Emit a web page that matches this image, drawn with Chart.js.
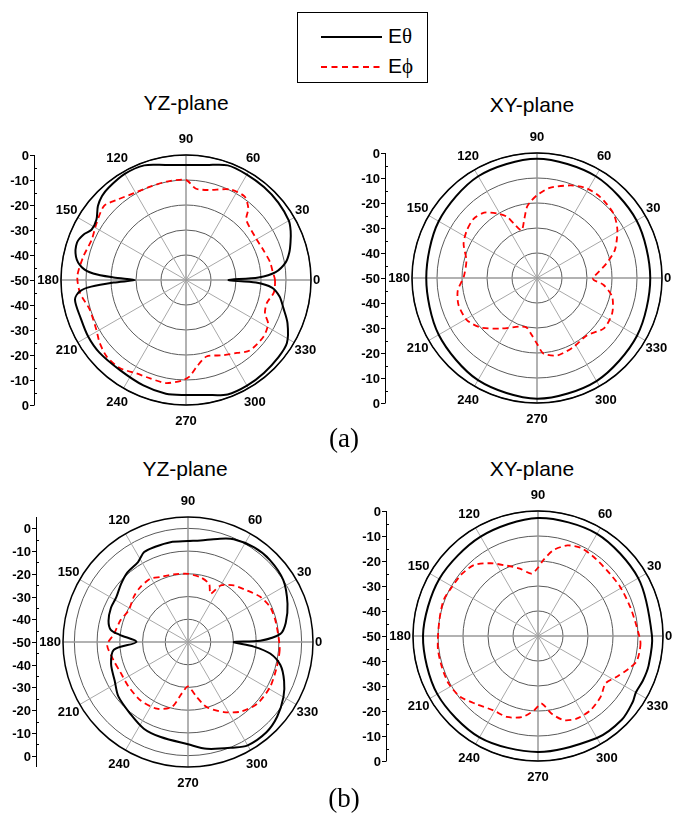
<!DOCTYPE html>
<html>
<head>
<meta charset="utf-8">
<script src="https://cdn.jsdelivr.net/npm/chart.js@4.4.0/dist/chart.umd.min.js"></script>
<style>
  body { margin: 0; width: 673px; height: 814px; background: #fff; position: relative; overflow: hidden;
         font-family: "Liberation Sans", Arial, sans-serif; }
  canvas { position: absolute; }
  .title { position: absolute; width: 200px; text-align: center; font-size: 21px; line-height: 21px; color: #000; }
  .cap { position: absolute; width: 80px; text-align: center; font-family: "Liberation Serif", "Times New Roman", serif;
         font-size: 27px; line-height: 27px; }
  #legend { position: absolute; left: 297px; top: 12px; width: 129px; height: 69px; border: 1px solid #000; }
  #legend svg { position: absolute; left: 0; top: 0; }
  .leg { position: absolute; left: 90px; font-size: 21px; line-height: 21px; }
  .gr { font-family: "Liberation Serif", "Times New Roman", serif; }
</style>
</head>
<body>

<div id="legend">
  <svg width="129" height="69">
    <line x1="23" y1="24" x2="84" y2="24" stroke="#000" stroke-width="2"/>
    <line x1="23" y1="54" x2="84" y2="54" stroke="#f00" stroke-width="2" stroke-dasharray="6,4.5"/>
  </svg>
  <span class="leg" style="top:12px">E<span class="gr">θ</span></span>
  <span class="leg" style="top:42px">E<span class="gr">ϕ</span></span>
</div>

<div class="title" style="left:86px; top:92px">YZ-plane</div>
<div class="title" style="left:432px; top:94px">XY-plane</div>
<div class="title" style="left:85px; top:458px">YZ-plane</div>
<div class="title" style="left:432px; top:458px">XY-plane</div>

<canvas id="yzA" width="335" height="310" style="left:4px; top:125px"></canvas>
<canvas id="xyA" width="335" height="310" style="left:355px; top:123px"></canvas>
<canvas id="yzB" width="335" height="310" style="left:6px; top:487px"></canvas>
<canvas id="xyB" width="335" height="310" style="left:356px; top:481px"></canvas>

<div class="cap" style="left:304px; top:425px">(a)</div>
<div class="cap" style="left:304px; top:785px">(b)</div>

<script>
// angle labels (degrees, counter-clockwise from the right) and dB rings
const angleTicks = [0, 30, 60, 90, 120, 150, 180, 210, 240, 270, 300, 330];
const dbTicks = [-50, -40, -30, -20, -10, 0];
const dbMinor = [-45, -35, -25, -15, -5];

// (a) YZ-plane
const yzA_thetaDeg = [0, 2, 5, 10, 15, 20, 25, 30, 40, 50, 60, 70, 80, 90, 100, 110, 120, 130, 135, 140, 146, 152, 156, 161, 168, 173, 176, 178,
  180, 182, 184, 186, 190, 200, 210, 220, 234, 248, 260, 270, 280, 290, 300, 310, 320, 328, 337, 344, 350, 355, 358];
const yzA_thetaDb = [-33, -21, -14, -9.5, -7.2, -5.5, -3.8, -2.5, -1.8, -1.5, -1.3, -1.2, -3.3, -4, -3.3, -1.2, -1, -1.8, -2.5, -4, -6.8, -7.2, -5.2, -3.9, -5, -8, -12.8, -21,
  -29.6, -21, -12, -7.4, -4.9, -5.2, -4.8, -4.8, -5.3, -4.5, -3.8, -4, -3.3, -1.3, -1.2, -1.5, -1.8, -2.4, -5.9, -9.5, -12, -15.5, -22];
const yzA_phiDeg = [0, 6, 12, 21, 32, 45, 49, 55, 64, 76, 84, 90, 101, 111, 121, 131, 138, 148, 157, 167, 178, 187, 197, 209, 216, 224, 233,
  242, 250, 259, 268, 272, 277, 285, 296, 305, 312, 324, 332, 337, 344, 352];
const yzA_phiDb = [-14.4, -15.2, -15.6, -16.8, -17.4, -15.9, -12, -9.2, -9.7, -12.9, -13.2, -10, -9.9, -10, -9.5, -7.6, -5.8, -7.7, -9, -7.9, -6.5, -7.3, -9.7, -9, -7.3, -5.9, -5.9,
  -7.7, -8.1, -8, -9.8, -11.3, -15, -18.3, -16.5, -14.4, -12, -11.6, -12.8, -15.7, -16.4, -14.5];

// (a) XY-plane
const xyA_thetaDeg = [0, 30, 60, 90, 120, 150, 180, 210, 240, 270, 300, 330];
const xyA_thetaDb = [-4.7, -4.0, -3.0, -2.3, -3.0, -4.6, -5.7, -4.6, -2.8, -1.7, -2.4, -3.8];
const xyA_phiDeg = [0, 12, 20, 31, 40, 52, 61, 70, 82, 90, 94, 98, 102, 108, 113, 116, 122, 129, 137, 146, 155, 166, 179, 189, 199, 211, 221,
  234, 250, 258, 264, 270, 275, 285, 298, 311, 323, 335, 346, 354, 358];
const xyA_phiDb = [-27.6, -21.5, -16.8, -12.5, -10, -8.9, -9, -10.6, -13.6, -16.9, -18.9, -21.3, -25.7, -30, -26.4, -22.8, -19.5, -16.4, -15.3, -16.1, -17.6, -20.9, -20.7, -17.9, -16.8, -17.3, -19.9,
  -25, -29.3, -29.8, -27.5, -23.7, -19.6, -18, -18.8, -19.6, -16.5, -16.8, -19, -23.2, -27.3];

// (b) YZ-plane
const yzB_thetaDeg = [0, 1, 5, 11, 21, 33, 45, 55, 66, 74, 83, 90, 100, 109, 116, 122, 131, 139, 148, 156, 165, 171, 174, 180, 186, 196, 208,
  218, 231, 243, 254, 270, 280, 293, 300, 311, 320, 330, 338, 346, 352, 356];
const yzB_thetaDb = [-29.9, -18.2, -9.2, -6.2, -3.1, 0, 1, 0.8, -0.5, -2.8, -5, -5.6, -5.4, -5.7, -6, -8.5, -9.4, -11, -12.8, -12.9, -13.8, -15.6, -19.8, -27.3, -17.2, -14.8, -13.5,
  -11.1, -9.5, -7.2, -6.5, -5, -2.3, 0.5, 2.5, 2.6, 1.2, -1.5, -4.4, -8.1, -13.5, -21];
const yzB_phiDeg = [3, 14, 23, 32, 41, 51, 60, 65, 70, 79, 90, 102, 113, 121, 131, 140, 152, 162, 174, 182, 194, 204, 217, 231, 245, 256,
  263, 270, 279, 286, 297, 307, 318, 331, 344, 355];
const yzB_phiDb = [-10.1, -10.4, -10.7, -12.5, -15.5, -18, -21.3, -26.6, -22.8, -21, -20, -19.6, -18.9, -17.6, -18, -18.9, -20.4, -18.8, -17.2, -14.4, -16.3, -17.4, -17.3, -16.9, -17.6, -20.5,
  -27.1, -30.5, -25.5, -20.2, -15.4, -11.6, -9.2, -8.8, -9.4, -9.5];

// (b) XY-plane
const xyB_thetaDeg = [0, 30, 60, 90, 120, 150, 180, 210, 240, 270, 300, 315, 325, 330, 337, 345];
const xyB_thetaDb = [-4.4, -3.7, -2.8, -2.8, -4.1, -4.4, -4.0, -3.5, -3.2, -3.6, -2.9, -2.6, -3.8, -4.8, -4.4, -4.2];
const xyB_phiDeg = [5, 17, 31, 44, 55, 64, 72, 80, 86, 90, 96, 105, 114, 123, 132, 141, 150, 159, 169, 180, 188, 198, 208, 218, 228, 239,
  249, 259, 267, 273, 280, 287, 295, 305, 316, 325, 333, 340, 346, 356];
const xyB_phiDb = [-10.3, -11.3, -11.7, -11.9, -11.3, -10.8, -11.9, -15.2, -19.6, -22.7, -24.9, -22.1, -19.2, -15.3, -11.8, -10.7, -10.4, -9.6, -10, -10, -9.6, -9.6, -9.5, -10.5, -13.3, -15.3,
  -15.3, -17, -20.2, -22.9, -18.4, -14.8, -13.5, -13.6, -15.1, -17, -14.4, -11.5, -9.2, -8.9];

// radar goes clockwise from startAngle, so index i holds angle (360 - i) % 360
const degLabels = [];
for (let i = 0; i < 360; i++) degLabels.push((360 - i) % 360);

function toSlots(deg, db) {
  const arr = new Array(360).fill(null);
  deg.forEach((d, k) => { arr[(360 - d) % 360] = db[k]; });
  return arr;
}

const labelFont = 'bold 13px "Liberation Sans", Arial, sans-serif';

// outer ring, angle labels and the dB ruler on the left
const polarDecor = {
  id: 'polarDecor',
  afterDraw(chart) {
    const r = chart.scales.r;
    const ctx = chart.ctx;
    const R = r.drawingArea;
    ctx.save();
    ctx.strokeStyle = '#000';
    ctx.lineWidth = 1.5;
    ctx.beginPath();
    ctx.arc(r.xCenter, r.yCenter, R, 0, Math.PI * 2);
    ctx.stroke();

    ctx.font = labelFont;
    ctx.fillStyle = '#000';
    ctx.textAlign = 'center';
    ctx.textBaseline = 'middle';
    angleTicks.forEach((a) => {
      const p = r.getPointPosition((360 - a) % 360, R);
      const w = ctx.measureText(String(a)).width;
      const c = Math.cos(p.angle), s = Math.sin(p.angle);
      const x = r.xCenter + c * (R + 2 + w / 2);
      const y = r.yCenter + s * (R + 11 + 4.7);
      ctx.fillText(String(a), x, y + 0.5);
    });

    const rx = r.xCenter - 152;
    ctx.lineWidth = 1;
    ctx.beginPath();
    ctx.moveTo(rx + 0.5, r.yCenter - R);
    ctx.lineTo(rx + 0.5, r.yCenter + R);
    ctx.stroke();
    ctx.textAlign = 'right';
    dbTicks.forEach((v) => {
      const d = r.getDistanceFromCenterForValue(v);
      [-1, 1].forEach((sgn) => {
        if (v === dbTicks[0] && sgn === 1) return;
        const y = Math.round(r.yCenter + sgn * d) + 0.5;
        ctx.beginPath();
        ctx.moveTo(rx - 4, y);
        ctx.lineTo(rx + 0.5, y);
        ctx.stroke();
        ctx.fillText(String(v), rx - 5, y + 0.5);
      });
    });
    dbMinor.forEach((v) => {
      const d = r.getDistanceFromCenterForValue(v);
      [-1, 1].forEach((sgn) => {
        const y = Math.round(r.yCenter + sgn * d) + 0.5;
        ctx.beginPath();
        ctx.moveTo(rx + 0.5, y);
        ctx.lineTo(rx + 3, y);
        ctx.stroke();
      });
    });
    ctx.restore();
  }
};

function makePanel(id, min, max, thetaDeg, thetaDb, phiDeg, phiDb) {
  new Chart(document.getElementById(id), {
    type: 'radar',
    data: {
      labels: degLabels,
      datasets: [
        { label: 'Eθ', data: toSlots(thetaDeg, thetaDb), borderColor: '#000', borderWidth: 2,
          fill: false, pointRadius: 0, pointHitRadius: 0, tension: 0.3, spanGaps: true },
        { label: 'Eϕ', data: toSlots(phiDeg, phiDb), borderColor: '#ff0000', borderWidth: 1.8, borderDash: [6, 4],
          fill: false, pointRadius: 0, pointHitRadius: 0, tension: 0.25, spanGaps: true }
      ]
    },
    options: {
      responsive: false,
      animation: false,
      layout: { padding: { left: 57, right: 28, top: 30, bottom: 30 } },
      plugins: { legend: { display: false }, tooltip: { enabled: false } },
      scales: {
        r: {
          min: min,
          max: max,
          bounds: 'data',
          startAngle: 90,
          afterBuildTicks: (scale) => { scale.ticks = dbTicks.map((v) => ({ value: v })); },
          ticks: { display: false },
          pointLabels: { display: false },
          grid: { circular: true, color: '#5a5a5a', lineWidth: 1 },
          angleLines: {
            color: (c) => (c.index % 90 === 0 ? '#999' : '#a8a8a8'),
            lineWidth: (c) => (c.index % 90 === 0 ? 1.5 : (c.index % 30 === 0 ? 1 : 0))
          }
        }
      }
    },
    plugins: [polarDecor]
  });
}

makePanel('yzA', -50, 0, yzA_thetaDeg, yzA_thetaDb, yzA_phiDeg, yzA_phiDb);
makePanel('xyA', -50, 0, xyA_thetaDeg, xyA_thetaDb, xyA_phiDeg, xyA_phiDb);
makePanel('yzB', -50, 5, yzB_thetaDeg, yzB_thetaDb, yzB_phiDeg, yzB_phiDb);
makePanel('xyB', -50, 0, xyB_thetaDeg, xyB_thetaDb, xyB_phiDeg, xyB_phiDb);
</script>
</body>
</html>
